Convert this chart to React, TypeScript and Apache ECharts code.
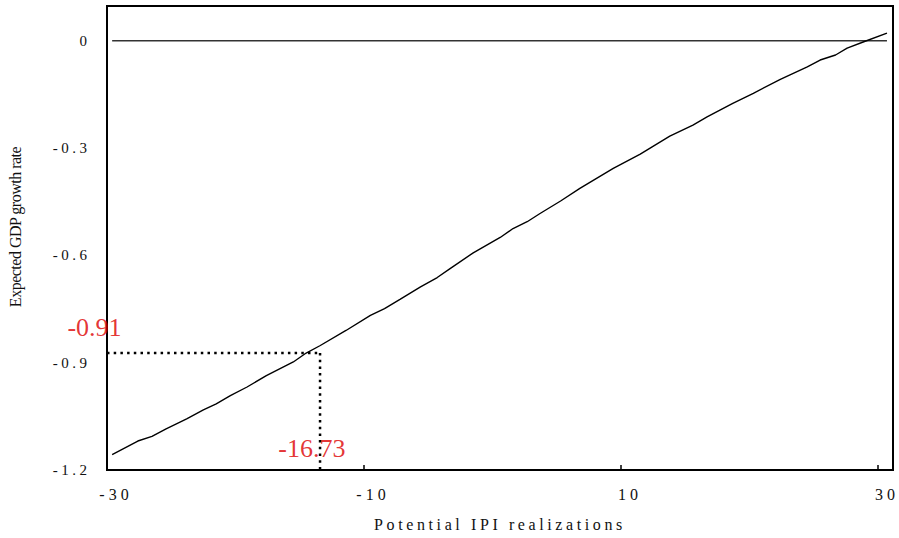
import React, { useEffect, useRef } from "react";
import * as echarts from "echarts";

// (Potential IPI realization, expected GDP growth rate)
const CURVE_X = [-29.6, -27.6, -26.5, -25.4, -23.8, -22.5, -21.5, -20.4, -19.1, -17.6, -15.5, -14.5, -13.4, -11.4, -9.5, -8.4, -7.2, -5.6, -4.3, -3.3, -1.5, 0.6, 1.6, 2.7, 3.7, 5.3, 6.8, 9.4, 11.5, 13.8, 15.6, 16.7, 18.7, 20.3, 22.4, 24.5, 25.5, 26.7, 27.6, 28.9, 30.7];
const CURVE_Y = [-1.157, -1.119, -1.106, -1.085, -1.057, -1.032, -1.015, -0.992, -0.968, -0.936, -0.898, -0.873, -0.852, -0.81, -0.768, -0.749, -0.723, -0.688, -0.662, -0.637, -0.593, -0.55, -0.525, -0.506, -0.483, -0.448, -0.413, -0.357, -0.317, -0.267, -0.236, -0.213, -0.175, -0.147, -0.108, -0.073, -0.054, -0.04, -0.021, -0.003, 0.021];

const ZERO_LINE_X = [-29.6, 30.7];

const X_TICKS = [-30, -10, 10, 30];
const Y_TICKS = [-1.2, -0.9, -0.6, -0.3, 0];

const X_NAME = "Potential IPI realizations";
const Y_NAME = "Expected GDP growth rate";

// Highlighted point (drawn position) and its annotation texts
const MARK_X = -13.42;
const MARK_Y = -0.873;
const MARK_LABEL_Y = "-0.91";
const MARK_LABEL_X = "-16.73";
const LABEL_Y_POS = [-30.97, -0.803];
const LABEL_X_POS = [-14.05, -1.14];

const X_MIN = -30;
const X_MAX = 31.17;
const Y_MIN = -1.2;
const Y_MAX = 0.097;

const FONT = "Liberation Serif";

const fmtY = (v: number) => (Math.abs(v) < 1e-9 ? "0" : v.toFixed(1));
const fmtX = (v: number) => String(Math.round(v));

export default function App() {
  const ref = useRef<HTMLDivElement>(null);
  useEffect(() => {
    if (!ref.current) return;
    const chart = echarts.init(ref.current, undefined, { renderer: "svg" });
    const dotted = {
      color: "#000",
      width: 2.5,
      type: [2.5, 4.2] as any,
      cap: "butt" as any,
    };
    chart.setOption({
      animation: false,
      backgroundColor: "#fff",
      textStyle: { fontFamily: FONT },
      grid: {
        left: 107,
        top: 6,
        right: 6,
        bottom: 68,
        outerBoundsMode: "none",
        containLabel: false,
        show: true,
        borderColor: "#000",
        borderWidth: 2,
        backgroundColor: "transparent",
      },
      xAxis: {
        type: "value",
        min: X_MIN,
        max: X_MAX,
        name: X_NAME,
        nameLocation: "middle",
        nameGap: 46,
        nameTextStyle: { fontFamily: FONT, fontSize: 16, color: "#111" },
        axisLine: { show: true, onZero: false, lineStyle: { color: "#000", width: 2 } },
        axisTick: {
          show: true,
          inside: true,
          length: 5,
          customValues: X_TICKS,
          lineStyle: { color: "#000", width: 1.5 },
        },
        axisLabel: {
          customValues: X_TICKS,
          margin: 16,
          padding: [0, 0, 0, 18],
          fontFamily: FONT,
          fontSize: 16,
          color: "#111",
          formatter: fmtX,
        },
        splitLine: { show: false },
      },
      yAxis: {
        type: "value",
        min: Y_MIN,
        max: Y_MAX,
        name: Y_NAME,
        nameLocation: "middle",
        nameGap: 84,
        nameRotate: 90,
        nameTextStyle: { fontFamily: FONT, fontSize: 16, color: "#111", padding: [0, 0, 0, 22] },
        axisLine: { show: true, onZero: false, lineStyle: { color: "#000", width: 2 } },
        axisTick: { show: false },
        axisLabel: {
          customValues: Y_TICKS,
          margin: 16.5,
          fontFamily: FONT,
          fontSize: 15,
          color: "#111",
          formatter: fmtY,
        },
        splitLine: { show: false },
      },
      series: [
        {
          type: "line",
          data: ZERO_LINE_X.map((x) => [x, 0]),
          showSymbol: false,
          lineStyle: { color: "#333", width: 1.5 },
          silent: true,
        },
        {
          type: "line",
          data: CURVE_X.map((x, i) => [x, CURVE_Y[i]]),
          showSymbol: false,
          lineStyle: { color: "#000", width: 1.4 },
          silent: true,
        },
        {
          type: "line",
          data: [
            [X_MIN, MARK_Y],
            [MARK_X, MARK_Y],
          ],
          showSymbol: false,
          lineStyle: dotted,
          silent: true,
        },
        {
          type: "line",
          clip: false,
          data: [
            [MARK_X, MARK_Y],
            [MARK_X, Y_MIN - 0.01],
          ],
          showSymbol: false,
          lineStyle: dotted,
          silent: true,
        },
        {
          type: "scatter",
          clip: false,
          symbolSize: 0,
          silent: true,
          data: [
            { name: MARK_LABEL_Y, value: LABEL_Y_POS },
            { name: MARK_LABEL_X, value: LABEL_X_POS },
          ],
          label: {
            show: true,
            position: "inside",
            formatter: (p: any) => p.name,
            fontFamily: FONT,
            fontSize: 26,
            color: "#dd0000",
          },
        },
      ],
    });
    // The reference typesets axis texts with wide letter spacing
    const xTickSet = new Set(X_TICKS.map(fmtX));
    const yTickSet = new Set(Y_TICKS.map(fmtY));
    ref.current.querySelectorAll("text").forEach((t) => {
      const s = t.textContent || "";
      let sp: number | null = null;
      if (s === X_NAME) sp = 3.6;
      else if (s === Y_NAME) sp = -0.5;
      else if (xTickSet.has(s)) sp = 4;
      else if (yTickSet.has(s)) sp = 3.5;
      if (sp !== null) t.setAttribute("letter-spacing", String(sp));
    });
    return () => chart.dispose();
  }, []);
  return <div ref={ref} style={{ width: 899, height: 538, position: "absolute", left: 0, top: 0 }} />;
}
